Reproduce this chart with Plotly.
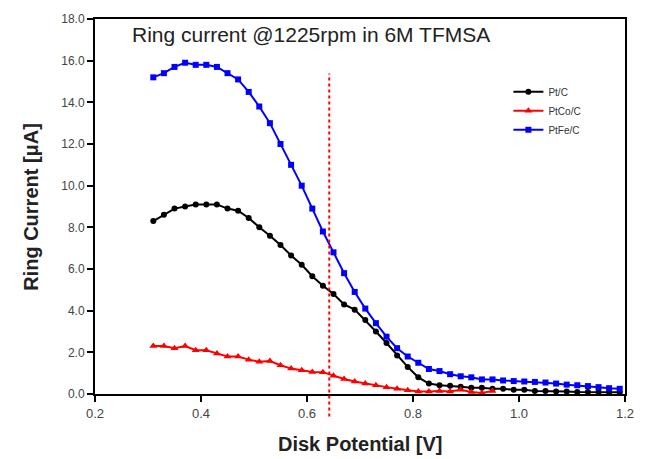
import plotly.graph_objects as go

# Disk potential grid (V)
x_full = [round(0.31 + 0.02 * i, 2) for i in range(45)]
x_red = x_full[:33]

pt_c = [8.3, 8.6, 8.9, 9.0, 9.1, 9.1, 9.1, 8.9, 8.8, 8.45, 8.0, 7.6, 7.15, 6.65, 6.2,
        5.65, 5.2, 4.8, 4.3, 4.05, 3.55, 3.0, 2.45, 1.85, 1.3, 0.8, 0.5, 0.42, 0.4, 0.35,
        0.3, 0.3, 0.25, 0.25, 0.2, 0.2, 0.15, 0.15, 0.12, 0.12, 0.1, 0.1, 0.1, 0.08, 0.08]

ptco_c = [2.3, 2.3, 2.2, 2.3, 2.1, 2.1, 1.95, 1.8, 1.8, 1.65, 1.55, 1.58, 1.38, 1.22, 1.14,
          1.06, 1.05, 0.88, 0.72, 0.6, 0.5, 0.42, 0.33, 0.25, 0.18, 0.12, 0.12, 0.15, 0.12,
          0.2, 0.1, 0.05, 0.15]

ptfe_c = [15.2, 15.4, 15.7, 15.9, 15.8, 15.8, 15.7, 15.4, 15.1, 14.5, 13.8, 13.0, 12.0, 11.0,
          10.0, 8.9, 7.8, 6.8, 5.8, 4.9, 4.1, 3.4, 2.75, 2.2, 1.8, 1.5, 1.2, 1.1, 0.95, 0.85,
          0.8, 0.7, 0.7, 0.65, 0.62, 0.6, 0.58, 0.55, 0.5, 0.45, 0.42, 0.38, 0.33, 0.28, 0.25]

x_ticks = [0.2, 0.4, 0.6, 0.8, 1.0, 1.2]
y_ticks = [0, 2, 4, 6, 8, 10, 12, 14, 16, 18]
marker_potential = 0.642

FONT = "Arial, 'Liberation Sans', sans-serif"

fig = go.Figure()
fig.add_trace(go.Scatter(x=x_full, y=pt_c, mode="lines+markers", name="Pt/C",
                         line=dict(color="black", width=2),
                         marker=dict(symbol="circle", size=6, color="black")))
fig.add_trace(go.Scatter(x=x_red, y=ptco_c, mode="lines+markers", name="PtCo/C",
                         line=dict(color="red", width=2),
                         marker=dict(symbol="triangle-up", size=7, color="red")))
fig.add_trace(go.Scatter(x=x_full, y=ptfe_c, mode="lines+markers", name="PtFe/C",
                         line=dict(color="blue", width=2),
                         marker=dict(symbol="square", size=6, color="blue")))

fig.add_shape(type="line", xref="x", yref="paper",
              x0=marker_potential, x1=marker_potential, y0=-0.06, y1=0.855,
              line=dict(color="red", width=2, dash="dot"))

fig.add_annotation(text="Ring current @1225rpm in 6M TFMSA", xref="paper", yref="paper",
                   x=0.066, y=0.958, xanchor="left", yanchor="middle", showarrow=False,
                   font=dict(size=21, color="#222", family=FONT))
fig.add_annotation(text="<b>Disk Potential [V]</b>", xref="paper", yref="paper",
                   x=0.5, y=-0.134, xanchor="center", yanchor="middle", showarrow=False,
                   font=dict(size=20, color="#222", family=FONT))
fig.add_annotation(text="<b>Ring Current [μA]</b>", xref="paper", yref="paper",
                   x=-0.122, y=0.5, xanchor="center", yanchor="middle", showarrow=False,
                   textangle=-90, font=dict(size=20, color="#222", family=FONT))

fig.update_layout(
    width=646, height=459,
    margin=dict(l=95, r=13, t=14, b=65),
    paper_bgcolor="white", plot_bgcolor="white",
    font=dict(family=FONT, color="#333"),
    showlegend=True,
    legend=dict(x=0.78, y=0.845, xanchor="left", yanchor="top",
                bgcolor="rgba(0,0,0,0)", font=dict(size=10, color="#333"),
                itemwidth=30),
    xaxis=dict(range=[0.2, 1.2], tickvals=x_ticks, ticktext=[f"{v:.1f}" for v in x_ticks],
               showgrid=False, zeroline=False, showline=True, linecolor="black", linewidth=2,
               mirror=True, ticks="outside", ticklen=6, tickwidth=2, tickcolor="black",
               tickfont=dict(size=13, color="#444")),
    yaxis=dict(range=[0, 18], tickvals=y_ticks, ticktext=[f"{v:.1f}" for v in y_ticks],
               showgrid=False, zeroline=False, showline=True, linecolor="black", linewidth=2,
               mirror=True, ticks="outside", ticklen=6, tickwidth=2, tickcolor="black",
               tickfont=dict(size=12, color="#444")),
)

fig.write_html("out.html",
               config={"displayModeBar": False, "responsive": False},
               post_script="document.body.style.margin='0';document.body.style.overflow='hidden';")
